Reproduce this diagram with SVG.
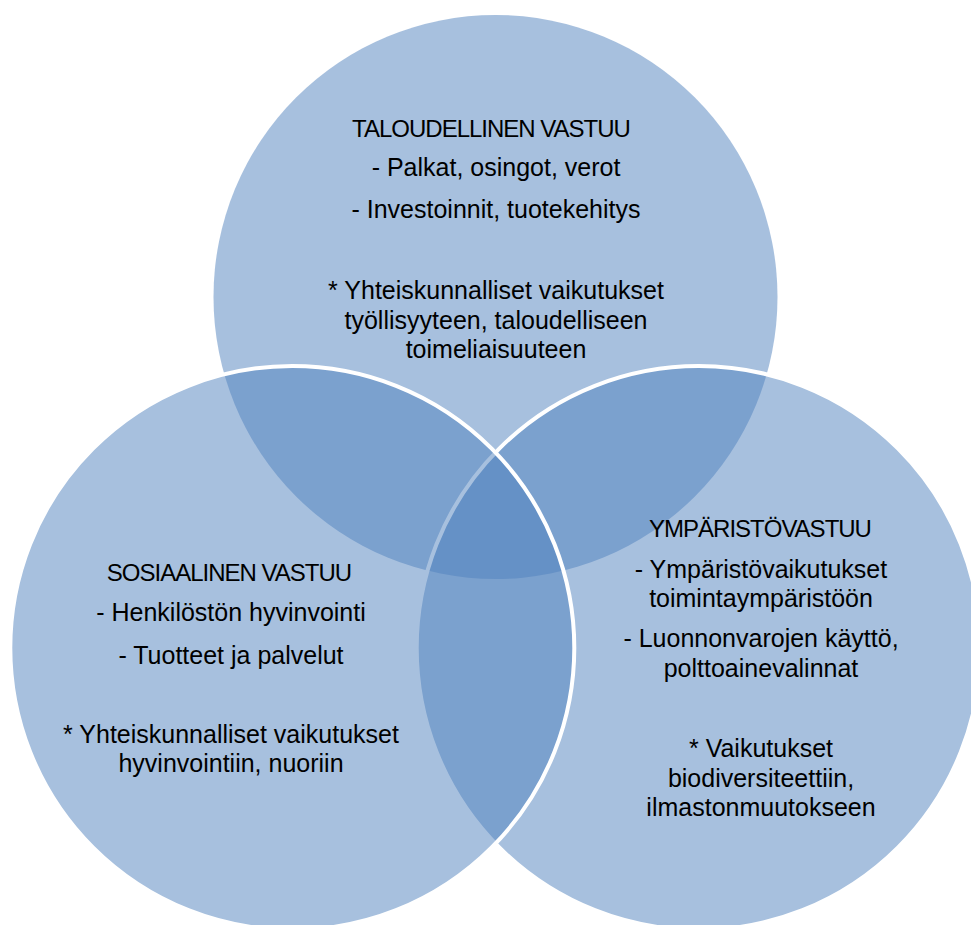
<svg xmlns="http://www.w3.org/2000/svg" width="971" height="925" viewBox="0 0 971 925">
<style>
  .c { fill: #4F81BD; fill-opacity: 0.5; }
  .s { stroke: #FFFFFF; stroke-width: 4; }
  text { font-family: "Liberation Sans", Arial, sans-serif; fill: #000000; text-anchor: middle; }
  .h { font-size: 24px; letter-spacing: -1px; }
  .b { font-size: 25px; }
</style>
<rect x="0" y="0" width="971" height="925" fill="#FFFFFF"/>
<g id="taloudellinen">
  <circle class="c" cx="495.5" cy="297" r="282"/>
  <text class="h" x="491" y="137">TALOUDELLINEN VASTUU</text>
  <text class="b" x="496" y="176">- Palkat, osingot, verot</text>
  <text class="b" x="496" y="218">- Investoinnit, tuotekehitys</text>
  <text class="b" x="496" y="299">* Yhteiskunnalliset vaikutukset</text>
  <text class="b" x="496" y="329">työllisyyteen, taloudelliseen</text>
  <text class="b" x="496" y="358">toimeliaisuuteen</text>
</g>
<g id="ymparisto">
  <circle class="c s" cx="698.7" cy="648" r="282"/>
  <text class="h" x="760" y="537">YMPÄRISTÖVASTUU</text>
  <text class="b" x="761" y="578">- Ympäristövaikutukset</text>
  <text class="b" x="761" y="607">toimintaympäristöön</text>
  <text class="b" x="761" y="647">- Luonnonvarojen käyttö,</text>
  <text class="b" x="761" y="677">polttoainevalinnat</text>
  <text class="b" x="761" y="757">* Vaikutukset</text>
  <text class="b" x="761" y="787">biodiversiteettiin,</text>
  <text class="b" x="761" y="816">ilmastonmuutokseen</text>
</g>
<g id="sosiaalinen">
  <circle class="c s" cx="292.3" cy="648" r="282"/>
  <text class="h" x="229" y="581">SOSIAALINEN VASTUU</text>
  <text class="b" x="231" y="621">- Henkilöstön hyvinvointi</text>
  <text class="b" x="231" y="664">- Tuotteet ja palvelut</text>
  <text class="b" x="231" y="743">* Yhteiskunnalliset vaikutukset</text>
  <text class="b" x="231" y="772">hyvinvointiin, nuoriin</text>
</g>
</svg>
